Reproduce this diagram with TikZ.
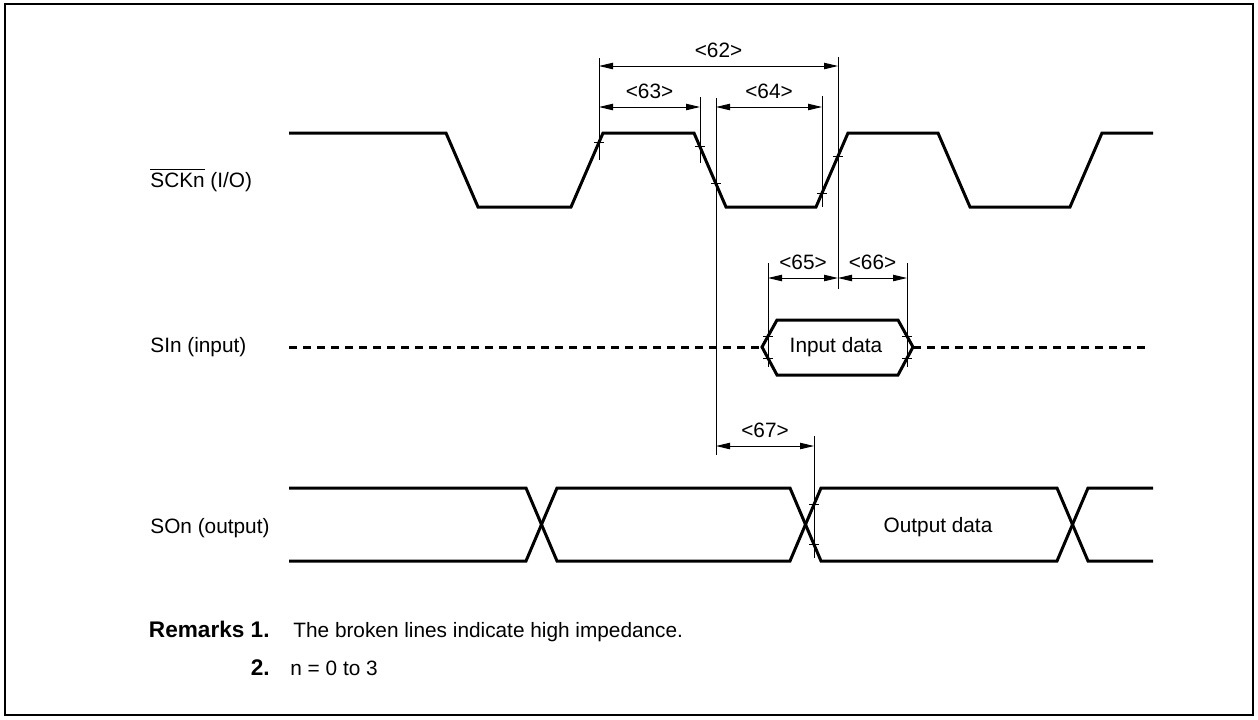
\documentclass[tikz,border=0pt]{standalone}
\usepackage{fontspec}
\setmainfont{Liberation Sans}
\usetikzlibrary{arrows.meta,positioning,calc}
\newcommand{\ovl}[1]{$\overline{\mbox{#1}}$}

\begin{document}
\begin{tikzpicture}[x=0.5pt,y=-0.5pt,>={Triangle[length=7pt,width=3.2pt]},
  sig/.style={line width=1.5pt,line join=miter},
  hiz/.style={sig,dash pattern=on 4pt off 3pt},
  thin/.style={line width=0.5pt},
  dim/.style={thin,<->},
  lbl/.style={font=\fontsize{10.4}{12}\selectfont,inner sep=0pt},
  bold/.style={font=\fontsize{11.3}{12}\selectfont\bfseries,inner sep=0pt}]
  \useasboundingbox (0,0) rectangle (1258,719);
  \draw[line width=1pt] (5,4) rectangle (1253,715);

  % signal names
  \node[lbl,anchor=west] (sck) at (150,180) {\ovl{SCKn} (I/O)};
  \node[lbl,anchor=west] (si) at (150,347) {SIn (input)};
  \node[lbl,anchor=west] (so) at (150,528) {SOn (output)};

  % SCKn
  \draw[sig] (289,133) -- (446,133) -- (478,207) -- (571,207) -- (603,133)
    -- (694,133) -- (726,207) -- (816,207) -- (848,133) -- (938,133)
    -- (970,207) -- (1070,207) -- (1102,133) -- (1153,133);

  % SIn
  \coordinate (inL) at (762,347);
  \coordinate (inR) at (913,347);
  \draw[hiz] (289,347) -- (inL);
  \draw[hiz] (inR) -- (1145,347);
  \draw[sig] (inL) -- (777,320) -- (898,320) -- (inR) -- (898,375) -- (777,375) -- cycle;
  \node[lbl] (indata) at (836,347) {Input data};

  % SOn
  \draw[sig] (289,488) -- (526,488) -- (557,561) -- (790,561) -- (821,488)
    -- (1057,488) -- (1088,561) -- (1153,561);
  \draw[sig] (289,561) -- (526,561) -- (557,488) -- (790,488) -- (821,561)
    -- (1057,561) -- (1088,488) -- (1153,488);
  \node[lbl] (outdata) at (938,527) {Output data};

  % extension lines
  \foreach \x/\ya/\yb in {599/58/160, 700/97/163, 716/98/455, 822/96/207,
      838/57/289, 768/263/367, 907/263/367, 814/436/558}
    \draw[thin] (\x,\ya) -- (\x,\yb);

  % level marks
  \foreach \x/\y in {599/142.3, 700/146.9, 716/183.9, 822/193.1, 838/156.1,
      768/336.2, 768/358.2, 907/336.2, 907/358.2, 814/504.5, 814/544.5}
    \draw[thin] (\x-5,\y) -- (\x+5,\y);

  % timing parameters
  \draw[dim] (599,66) -- node[lbl,above=4pt] (t62) {<62>} (838,66);
  \draw[dim] (599,107) -- node[lbl,above=4pt] (t63) {<63>} (700,107);
  \draw[dim] (716,107) -- node[lbl,above=4pt] (t64) {<64>} (822,107);
  \draw[dim] (768,278) -- node[lbl,above=4pt] (t65) {<65>} (838,278);
  \draw[dim] (838,278) -- node[lbl,above=4pt] (t66) {<66>} (907,278);
  \draw[dim] (716,446) -- node[lbl,above=4pt] (t67) {<67>} (814,446);

  % remarks
  \node[bold,anchor=base east] (rem1) at (270,637) {Remarks 1.};
  \node[lbl,anchor=base west] (rem1t) at (293,637) {The broken lines indicate high impedance.};
  \node[bold,anchor=base east] (rem2) at (270,675) {2.};
  \node[lbl,anchor=base west] (rem2t) at (290,675) {n = 0 to 3};
\end{tikzpicture}
\end{document}
